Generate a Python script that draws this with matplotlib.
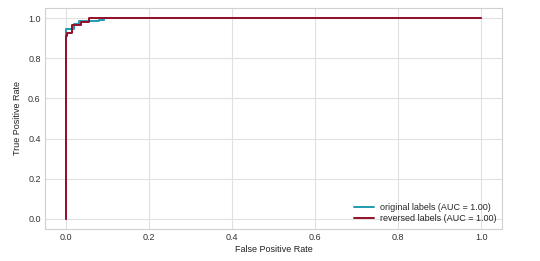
import matplotlib
matplotlib.use("Agg")
import matplotlib.pyplot as plt

plt.style.use("seaborn-v0_8-whitegrid")
plt.rcParams['font.family'] = ['Liberation Sans', 'DejaVu Sans']

# ROC curve points
fpr_orig = [0.0, 0.0, 0.0, 0.02, 0.02, 0.032, 0.032, 0.08, 0.08, 0.092, 0.092, 1.0]
tpr_orig = [0.0, 0.0, 0.945, 0.945, 0.97, 0.97, 0.985, 0.985, 0.99, 0.99, 1.0, 1.0]
fpr_rev = [0.0, 0.0, 0.004, 0.004, 0.016, 0.016, 0.038, 0.038, 0.056, 0.056, 1.0]
tpr_rev = [0.0, 0.91, 0.91, 0.925, 0.925, 0.965, 0.965, 0.983, 0.983, 1.0, 1.0]
labels = ["original labels (AUC = 1.00)", "reversed labels (AUC = 1.00)"]
colors = ["#1f9bb0", "#960f2b"]

fig = plt.figure(figsize=(5.4, 2.61), dpi=100)
ax = fig.add_axes([0.083, 0.123, 0.847, 0.846])
ax.plot(fpr_orig, tpr_orig, color=colors[0], lw=1.4, label=labels[0])
ax.plot(fpr_rev, tpr_rev, color=colors[1], lw=1.4, label=labels[1])
ax.set_xlim(-0.05, 1.05)
ax.set_ylim(-0.05, 1.05)
ax.set_xticks([0.0, 0.2, 0.4, 0.6, 0.8, 1.0])
ax.set_yticks([0.0, 0.2, 0.4, 0.6, 0.8, 1.0])
ax.tick_params(labelsize=6.5, pad=3, colors="#333333")
ax.set_xlabel("False Positive Rate", fontsize=6.5, labelpad=2, color="#222222")
ax.set_ylabel("True Positive Rate", fontsize=6.5, labelpad=4, color="#222222")
for s in ax.spines.values():
    s.set_color("#d0d0d0")
    s.set_linewidth(0.8)
ax.grid(color="#e0e0e0", lw=0.8)
ax.legend(loc="lower right", fontsize=6.5, frameon=False, handlelength=2.2,
          labelspacing=0.3, borderaxespad=0.2, handletextpad=0.7)
fig.savefig("out.png", dpi=100)
